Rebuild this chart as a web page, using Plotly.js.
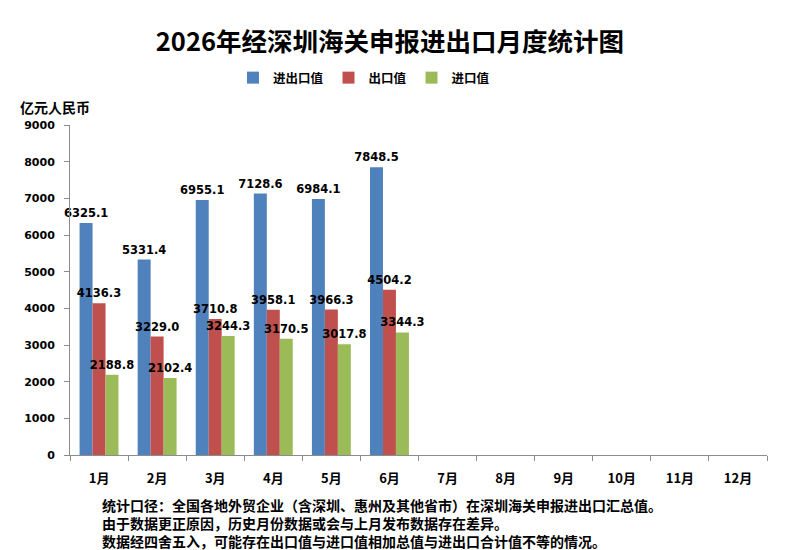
<!DOCTYPE html>
<html>
<head>
<meta charset="utf-8">
<script src="https://cdn.plot.ly/plotly-3.0.1.min.js"></script>
<style>
  html, body { margin: 0; padding: 0; background: #fff; }
  #chart { width: 799px; height: 550px; }
</style>
</head>
<body>
<div id="chart"></div>
<script>
// months on the axis (only Jan-Jun reported so far)
var months = ['1月','2月','3月','4月','5月','6月','7月','8月','9月','10月','11月','12月'];
var reported = ['1月','2月','3月','4月','5月','6月'];

// values in 亿元人民币
var totalTrade = [6325.1, 5331.4, 6955.1, 7128.6, 6984.1, 7848.5];
var exportsVal = [4136.3, 3229.0, 3710.8, 3958.1, 3966.3, 4504.2];
var importsVal = [2188.8, 2102.4, 3244.3, 3170.5, 3017.8, 3344.3];

var notes = [
  '统计口径：全国各地外贸企业（含深圳、惠州及其他省市）在深圳海关申报进出口汇总值。',
  '由于数据更正原因，历史月份数据或会与上月发布数据存在差异。',
  '数据经四舍五入，可能存在出口值与进口值相加总值与进出口合计值不等的情况。'
];

var cjk = '"Noto Sans CJK SC", "Noto Sans", sans-serif';
var num = '"DejaVu Sans", Verdana, sans-serif';

function series(name, vals, color) {
  return {
    type: 'bar',
    name: name,
    x: reported,
    y: vals,
    marker: { color: color },
    texttemplate: '%{y:.1f}',
    textposition: 'outside',
    constraintext: 'none',
    textfont: { family: num, size: 11.5, color: '#000', weight: 'bold' },
    cliponaxis: false,
    hoverinfo: 'skip'
  };
}

var traces = [
  series('进出口值', totalTrade, '#4F81BD'),
  series('出口值', exportsVal, '#C0504D'),
  series('进口值', importsVal, '#9BBB59')
];

var annotations = [
  {
    text: '亿元人民币', xref: 'paper', yref: 'paper',
    x: -0.0746, y: 1.0545, xanchor: 'left', yanchor: 'middle', showarrow: false,
    font: { family: cjk, size: 14, color: '#000', weight: 'bold' }
  },
  {
    text: notes.join('<br>'), xref: 'paper', yref: 'paper', align: 'left',
    x: 0.043, y: -0.115, xanchor: 'left', yanchor: 'top', showarrow: false,
    font: { family: cjk, size: 14, color: '#000', weight: 'bold' }
  }
];

var layout = {
  width: 799, height: 550,
  margin: { l: 70, r: 32, t: 125, b: 95 },
  paper_bgcolor: '#fff', plot_bgcolor: '#fff',
  title: {
    text: '2026年经深圳海关申报进出口月度统计图',
    xref: 'container', yref: 'container', x: 0.488, y: 1 - 42 / 550,
    xanchor: 'center', yanchor: 'middle',
    font: { family: cjk, size: 25.5, color: '#000', weight: 'bold' }
  },
  showlegend: true,
  legend: {
    orientation: 'h', xref: 'container', yref: 'container',
    x: 364 / 799, y: 1 - 78 / 550, xanchor: 'center', yanchor: 'middle',
    itemwidth: 30, font: { family: cjk, size: 12.5, color: '#000', weight: 'bold' }
  },
  barmode: 'group', bargap: 0.33, bargroupgap: 0,
  xaxis: {
    type: 'category', categoryorder: 'array', categoryarray: months,
    range: [-0.5, 11.5], showgrid: false, zeroline: false,
    showline: true, linecolor: '#8c8c8c', linewidth: 1,
    ticks: 'outside', tickson: 'boundaries', ticklen: 5, tickcolor: '#8c8c8c',
    ticklabelstandoff: 11,
    tickfont: { family: cjk, size: 13, color: '#000', weight: 'bold' }
  },
  yaxis: {
    range: [0, 9000], dtick: 1000, showgrid: false, zeroline: false,
    showline: true, linecolor: '#8c8c8c', linewidth: 1,
    ticks: 'outside', ticklen: 5, tickcolor: '#8c8c8c',
    ticklabelstandoff: 7, tickformat: 'd',
    tickfont: { family: num, size: 11, color: '#000', weight: 'bold' }
  },
  annotations: annotations
};

Plotly.newPlot('chart', traces, layout, { staticPlot: true });
</script>
</body>
</html>
